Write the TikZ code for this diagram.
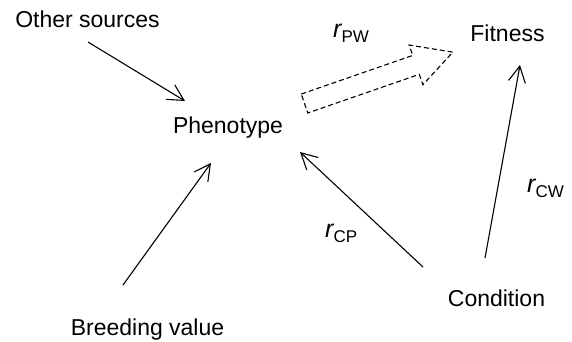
\documentclass[tikz,border=0pt]{standalone}
\usepackage{fontspec}
\setmainfont{Liberation Sans}
\usetikzlibrary{arrows.meta}

\tikzset{
  lbl/.style={inner sep=0pt, anchor=base, font=\fontsize{23}{27}\selectfont},
  coef/.style={inner sep=0pt, anchor=base west},
  arr/.style={line width=1.1pt, -{Straight Barb[length=16pt, width=17pt, line width=1.1pt]}},
  blockarrow/.style={line width=1.1pt, dash pattern=on 5pt off 3pt, line join=miter}
}
\newcommand{\rcoef}[1]{{\fontsize{25}{25}\selectfont\itshape r}\raisebox{-5pt}{\fontsize{17}{17}\selectfont #1}}

\begin{document}
\begin{tikzpicture}[x=1pt, y=-1pt]
  \useasboundingbox (0,0) rectangle (572,342);

  % trait labels
  \node[lbl] (other)     at (87.5,28)  {Other sources};
  \node[lbl] (pheno)     at (228,133)  {Phenotype};
  \node[lbl] (fitness)   at (507.5,41.5) {Fitness};
  \node[lbl] (condition) at (496.5,306) {Condition};
  \node[lbl] (breeding)  at (147.5,335) {Breeding value};

  % path coefficients
  \node[coef] (rpw) at (333,38)  {\rcoef{PW}};
  \node[coef] (rcp) at (325,237) {\rcoef{CP}};
  \node[coef] (rcw) at (527,192) {\rcoef{CW}};

  % causal arrows
  \draw[arr] ([shift={(0.5,14)}]other.base) -- ([shift={(-43,-32)}]pheno.base);
  \draw[arr] ([shift={(-24.5,-50)}]breeding.base) -- ([shift={(-17,30)}]pheno.base);
  \draw[arr] ([shift={(-73.5,-39)}]condition.base) -- ([shift={(72,19)}]pheno.base);
  \draw[arr] ([shift={(-11.5,-48)}]condition.base) -- ([shift={(12.5,23.5)}]fitness.base);

  % selection: dashed block arrow from phenotype towards fitness
  \coordinate (pwtail) at ([shift={(76.5,-29.5)}]pheno.base);
  \begin{scope}[shift={(pwtail)}, rotate=19.1]
    \draw[blockarrow] (0,-10) -- (118,-10) -- (118,-21) -- (157,0)
      -- (118,21) -- (118,10) -- (0,10) -- cycle;
  \end{scope}
\end{tikzpicture}
\end{document}
